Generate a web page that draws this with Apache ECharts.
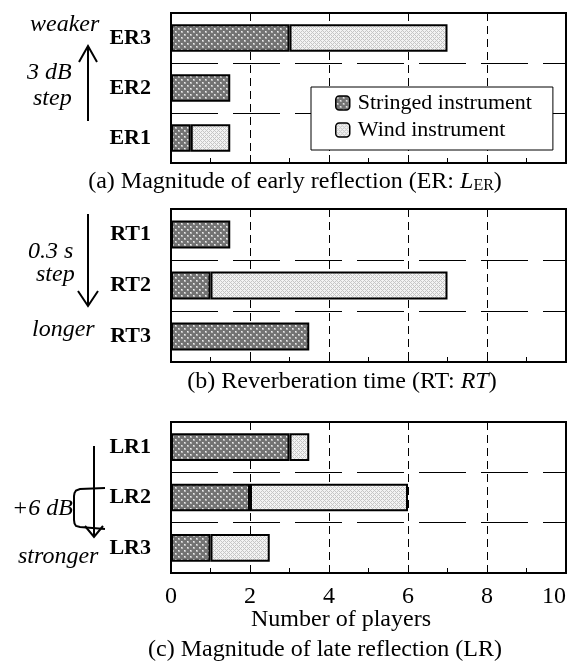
<!DOCTYPE html>
<html><head><meta charset="utf-8">
<script src="https://cdn.jsdelivr.net/npm/echarts@6/dist/echarts.min.js"></script>
<style>html,body{margin:0;padding:0;background:#fff}#c{width:568px;height:661px}</style>
</head><body><div id="c"></div>
<script>
// ---- data ----
const erCategories = ['ER3', 'ER2', 'ER1'];
const erStringed = [3, 1.5, 0.5];
const erWind = [4, 0, 1];
const rtCategories = ['RT1', 'RT2', 'RT3'];
const rtStringed = [1.5, 1, 3.5];
const rtWind = [0, 6, 0];
const lrCategories = ['LR1', 'LR2', 'LR3'];
const lrStringed = [3, 2, 1];
const lrWind = [0.5, 4, 1.5];
const seriesNames = ['Stringed instrument', 'Wind instrument'];
const xMin = 0, xMax = 10, xStep = 2;

// ---- patterns ----
function stringedPattern() {
  const c = document.createElement('canvas'); c.width = 6; c.height = 6;
  const g = c.getContext('2d');
  g.fillStyle = '#737373'; g.fillRect(0, 0, 6, 6);
  g.fillStyle = '#b8b8b8';
  g.fillRect(1, 1, 2, 2); g.fillRect(4, 4, 2, 2);
  g.fillStyle = '#eeeeee';
  g.fillRect(1, 1, 1, 1); g.fillRect(4, 4, 1, 1);
  return c;
}
function windPattern() {
  const c = document.createElement('canvas'); c.width = 4; c.height = 4;
  const g = c.getContext('2d');
  g.fillStyle = '#f3f3f3'; g.fillRect(0, 0, 4, 4);
  g.fillStyle = '#c6c6c6';
  for (let x = 0; x < 4; x++) for (let y = 0; y < 4; y++) {
    if ((x + y) % 4 === 0 || (x - y + 4) % 4 === 0) g.fillRect(x, y, 1, 1);
  }
  return c;
}
const fillS = { image: stringedPattern(), repeat: 'repeat' };
const fillW = { image: windPattern(), repeat: 'repeat' };

const SERIF = '"Liberation Serif", "Times New Roman", serif';
const grids = [
  { left: 171, right: 2, top: 13, height: 150 },
  { left: 171, right: 2, top: 209, height: 153 },
  { left: 171, right: 2, top: 422, height: 151 }
];
const cats = [erCategories, rtCategories, lrCategories];
const sVals = [erStringed, rtStringed, lrStringed];
const wVals = [erWind, rtWind, lrWind];
const noZero = arr => arr.map(v => (v === 0 ? '-' : v));

const xAxes = [], yAxes = [], series = [];
grids.forEach((g, i) => {
  xAxes.push({
    type: 'value', gridIndex: i, min: xMin, max: xMax, interval: xStep, position: 'bottom',
    axisLine: { show: true, lineStyle: { color: '#000', width: 2 } },
    axisTick: { show: true, inside: true, length: 8, lineStyle: { color: '#000', width: 1 } },
    minorTick: { show: true, splitNumber: 2, length: 5, lineStyle: { color: '#000', width: 1 } },
    splitLine: { show: true, lineStyle: { color: '#000', width: 1, type: [8, 5] } },
    axisLabel: { show: i === 2, color: '#000', fontFamily: SERIF, fontSize: 24, margin: 12,
      alignMaxLabel: 'right' }
  });
  xAxes.push({
    type: 'value', gridIndex: i, min: xMin, max: xMax, interval: xStep, position: 'top',
    axisLine: { show: true, lineStyle: { color: '#000', width: 2 } },
    axisTick: { show: true, inside: true, length: 8, lineStyle: { color: '#000', width: 1 } },
    splitLine: { show: false }, axisLabel: { show: false }
  });
  yAxes.push({
    type: 'category', gridIndex: i, data: cats[i], inverse: true,
    axisLine: { show: true, lineStyle: { color: '#000', width: 2 } },
    axisTick: { show: false },
    splitLine: { show: true, lineStyle: { color: '#000', width: 1, type: [47, 15] } },
    axisLabel: { color: '#000', fontFamily: SERIF, fontSize: 22, fontWeight: 'bold', margin: 20 }
  });
  series.push({
    name: seriesNames[0], type: 'bar', stack: 's' + i, xAxisIndex: i * 2, yAxisIndex: i,
    data: noZero(sVals[i]), barWidth: '55%',
    itemStyle: { color: fillS, borderColor: '#000', borderWidth: 2 }
  });
  series.push({
    name: seriesNames[1], type: 'bar', stack: 's' + i, xAxisIndex: i * 2, yAxisIndex: i,
    data: noZero(wVals[i]), barWidth: '55%',
    itemStyle: { color: fillW, borderColor: '#000', borderWidth: 2 }
  });
});

function txt(x, y, text, opts) {
  return { type: 'text', x: x, y: y, z: 10,
    style: Object.assign({ text: text, fill: '#000', fontFamily: SERIF, fontSize: 24,
      verticalAlign: 'middle', align: 'left' }, opts || {}) };
}
function ln(pts, w) {
  return { type: 'polyline', z: 10, shape: { points: pts },
    style: { stroke: '#000', lineWidth: w || 2, fill: null } };
}
const it = { fontStyle: 'italic' };

const graphics = [
  // panel a annotations
  txt(30, 25, 'weaker', it),
  txt(27, 73, '3 dB', it),
  txt(33, 99, 'step', it),
  ln([[88, 121], [88, 46]]),
  ln([[79, 62], [88, 46], [97, 62]]),
  // panel b
  txt(28, 252, '0.3 s', it),
  txt(36, 275, 'step', it),
  txt(32, 330, 'longer', it),
  ln([[88, 214], [88, 306]]),
  ln([[78, 291], [88, 306], [98, 291]]),
  // panel c
  txt(12, 509, '+6 dB', it),
  txt(18, 557, 'stronger', it),
  ln([[94, 446], [94, 537]]),
  ln([[85, 526], [94, 537], [103, 526]]),
  ln([[105, 488], [80, 489], [76, 490.5], [74.5, 493], [74, 496], [74, 520], [74.5, 523.5], [76, 526], [80, 527], [105, 529]]),
  // captions
  { type: 'text', x: 295, y: 181, z: 10, style: {
      text: '{n|(a) Magnitude of early reflection (ER: }{i|L}{s|ER}{n|)}',
      align: 'center', verticalAlign: 'middle',
      rich: {
        n: { fontFamily: SERIF, fontSize: 24, fill: '#000', lineHeight: 26, verticalAlign: 'bottom' },
        i: { fontFamily: SERIF, fontSize: 24, fontStyle: 'italic', fill: '#000', lineHeight: 26, verticalAlign: 'bottom' },
        s: { fontFamily: SERIF, fontSize: 16, fill: '#000', lineHeight: 10, verticalAlign: 'bottom' }
      } } },
  { type: 'text', x: 342, y: 382, z: 10, style: {
      text: '{n|(b) Reverberation time (RT: }{i|RT}{n|)}',
      align: 'center', verticalAlign: 'middle',
      rich: {
        n: { fontFamily: SERIF, fontSize: 24, fill: '#000' },
        i: { fontFamily: SERIF, fontSize: 24, fontStyle: 'italic', fill: '#000' }
      } } },
  txt(341, 620, 'Number of players', { align: 'center' }),
  txt(325, 650, '(c) Magnitude of late reflection (LR)', { align: 'center' })
];

const chart = echarts.init(document.getElementById('c'), null, { renderer: 'canvas' });
chart.setOption({
  animation: false,
  backgroundColor: '#fff',
  grid: grids.map(g => Object.assign({ show: true, borderColor: '#000', borderWidth: 2,
    backgroundColor: 'transparent', containLabel: false, outerBoundsMode: 'none' }, g)),
  xAxis: xAxes,
  yAxis: yAxes,
  legend: {
    data: seriesNames, orient: 'vertical', left: 311, top: 87,
    padding: [5, 21, 9, 24], itemGap: 5, itemWidth: 14, itemHeight: 14,
    backgroundColor: '#fff', borderColor: '#000', borderWidth: 1,
    itemStyle: { borderWidth: 1.5 },
    textStyle: { fontFamily: SERIF, fontSize: 22, color: '#000', padding: [0, 0, 0, 3] },
    selectedMode: false
  },
  series: series,
  graphic: graphics
});
</script>
</body></html>
